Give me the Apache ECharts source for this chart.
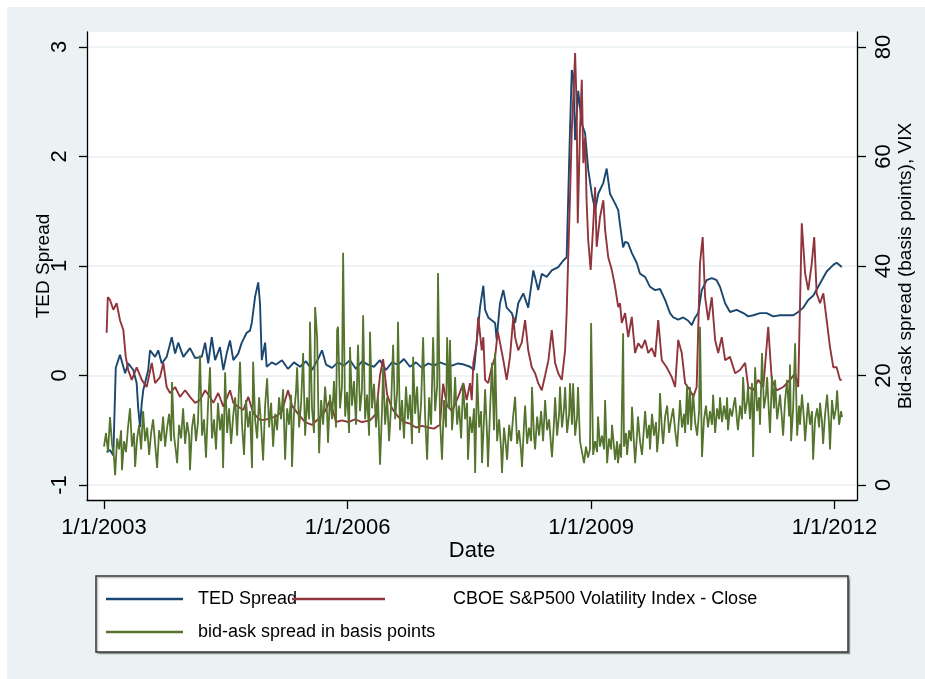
<!DOCTYPE html>
<html>
<head>
<meta charset="utf-8">
<script src="https://cdn.jsdelivr.net/npm/echarts@6/dist/echarts.min.js"></script>
<style>
html,body{margin:0;padding:0;background:#fff;}
#chart{width:925px;height:679px;}
</style>
</head>
<body>
<div id="chart"></div>
<script>
// x values are days since 1 Jan 2003
const xTickDays = [0, 1096, 2192, 3287];
const leftTicks = [-1, 0, 1, 2, 3];
const rightTicks = [0, 20, 40, 60, 80];

const tedSpread = [[12,-0.70],[27,-0.68],[42,-0.73],[50,-0.72],[53,0.07],[72,0.19],[95,0.02],[109,0.11],[132,0.05],[147,-0.07],[154,-0.30],[162,-0.47],[170,-0.25],[177,-0.13],[199,0.05],[207,0.23],[230,0.17],[244,0.23],[260,0.11],[282,0.17],[305,0.35],[320,0.20],[334,0.30],[357,0.17],[387,0.25],[410,0.16],[440,0.17],[455,0.30],[469,0.11],[485,0.35],[500,0.14],[522,0.26],[537,0.05],[552,0.20],[567,0.32],[582,0.14],[604,0.20],[620,0.30],[642,0.39],[657,0.41],[665,0.48],[680,0.72],[694,0.85],[702,0.66],[710,0.14],[725,0.30],[732,0.08],[755,0.12],[774,0.10],[801,0.14],[828,0.06],[855,0.12],[882,0.08],[909,0.13],[936,0.05],[963,0.15],[981,0.23],[999,0.10],[1026,0.07],[1053,0.12],[1080,0.09],[1107,0.14],[1134,0.06],[1161,0.13],[1188,0.10],[1215,0.08],[1242,0.14],[1269,0.05],[1296,0.12],[1323,0.10],[1350,0.15],[1377,0.08],[1404,0.12],[1431,0.07],[1458,0.11],[1485,0.09],[1512,0.12],[1539,0.10],[1566,0.09],[1593,0.11],[1620,0.10],[1647,0.08],[1665,0.05],[1692,0.62],[1707,0.82],[1715,0.60],[1729,0.53],[1760,0.48],[1767,0.33],[1782,0.66],[1797,0.78],[1812,0.62],[1835,0.57],[1850,0.48],[1864,0.66],[1887,0.75],[1909,0.62],[1932,0.96],[1954,0.78],[1970,0.93],[1992,0.90],[2015,0.96],[2044,0.99],[2067,1.05],[2082,1.08],[2089,1.63],[2097,2.24],[2105,2.79],[2112,2.73],[2120,2.15],[2134,2.60],[2150,2.30],[2165,2.21],[2179,1.88],[2195,1.66],[2210,1.51],[2224,1.66],[2247,1.76],[2262,1.89],[2277,1.66],[2300,1.57],[2314,1.51],[2322,1.38],[2336,1.17],[2345,1.22],[2358,1.21],[2375,1.12],[2397,1.03],[2412,0.93],[2435,0.90],[2457,0.81],[2480,0.78],[2502,0.79],[2525,0.69],[2547,0.57],[2562,0.53],[2584,0.51],[2607,0.53],[2629,0.50],[2645,0.46],[2660,0.53],[2674,0.57],[2690,0.78],[2712,0.87],[2735,0.89],[2757,0.87],[2772,0.81],[2795,0.66],[2817,0.58],[2847,0.60],[2877,0.57],[2899,0.54],[2922,0.55],[2952,0.57],[2982,0.57],[3012,0.54],[3042,0.55],[3072,0.55],[3102,0.55],[3124,0.58],[3147,0.62],[3169,0.69],[3192,0.73],[3222,0.84],[3252,0.95],[3282,1.01],[3297,1.03],[3320,0.99]];

const vixClose = [[12,27.8],[17,34.3],[27,33.8],[42,32.0],[57,33.2],[72,30.1],[87,28.3],[98,23.4],[109,21.0],[125,19.2],[147,21.5],[170,19.2],[192,17.9],[215,22.3],[230,18.6],[252,19.7],[267,22.3],[282,17.9],[297,16.8],[320,17.9],[342,16.1],[365,17.3],[387,16.1],[410,15.0],[432,15.5],[455,17.3],[477,16.1],[492,15.0],[514,16.8],[537,14.3],[567,17.3],[582,15.0],[604,14.3],[627,13.7],[649,16.1],[672,13.1],[702,11.9],[725,11.9],[747,12.2],[774,12.5],[801,13.5],[828,17.3],[846,14.5],[873,13.0],[905,11.5],[936,11.0],[963,12.0],[995,13.5],[1017,15.5],[1044,11.5],[1071,11.8],[1098,11.5],[1130,12.0],[1161,11.5],[1197,11.8],[1224,13.0],[1242,20.0],[1256,23.0],[1274,16.5],[1296,14.0],[1323,12.5],[1350,11.5],[1377,11.2],[1404,10.5],[1431,10.8],[1458,10.5],[1485,10.3],[1512,11.0],[1526,18.5],[1544,14.5],[1566,13.5],[1594,16.1],[1617,18.6],[1632,15.5],[1647,18.6],[1655,15.5],[1662,22.3],[1677,25.9],[1684,30.7],[1700,24.6],[1707,27.0],[1715,19.2],[1729,18.6],[1745,21.5],[1760,23.4],[1772,28.0],[1782,26.0],[1797,22.8],[1812,19.2],[1827,23.4],[1842,30.7],[1850,27.0],[1864,24.6],[1880,26.0],[1895,30.1],[1909,24.6],[1925,21.5],[1940,20.4],[1954,18.6],[1970,17.3],[1985,20.0],[2000,22.8],[2015,28.3],[2030,22.3],[2044,20.4],[2060,19.2],[2075,24.6],[2082,31.4],[2089,41.6],[2097,52.6],[2105,64.8],[2112,70.9],[2120,78.9],[2127,69.0],[2132,47.8],[2142,64.8],[2150,74.0],[2157,58.8],[2165,63.5],[2172,51.5],[2179,44.7],[2190,39.3],[2202,47.8],[2210,54.4],[2217,43.5],[2232,48.9],[2247,52.0],[2255,46.6],[2269,41.6],[2285,39.3],[2300,36.2],[2314,32.5],[2322,33.2],[2330,29.6],[2345,31.4],[2359,27.0],[2375,30.7],[2390,24.1],[2404,25.9],[2420,25.0],[2435,26.5],[2449,24.1],[2465,25.0],[2480,23.4],[2494,30.1],[2510,22.8],[2532,21.5],[2555,19.7],[2570,17.9],[2584,26.5],[2600,24.1],[2615,18.6],[2637,17.3],[2652,16.1],[2667,17.9],[2682,40.5],[2694,45.3],[2705,34.3],[2719,30.1],[2735,34.3],[2750,26.5],[2764,24.1],[2780,27.0],[2795,22.8],[2817,23.4],[2840,20.4],[2862,21.0],[2885,22.3],[2899,17.9],[2922,17.3],[2944,19.2],[2967,17.9],[2989,28.9],[3005,19.2],[3027,17.3],[3057,17.9],[3087,19.2],[3110,20.4],[3124,17.9],[3140,47.8],[3155,38.7],[3169,35.6],[3185,40.5],[3196,45.3],[3207,35.0],[3222,33.2],[3237,35.0],[3252,30.1],[3267,25.2],[3282,21.5],[3297,21.5],[3312,19.2],[3320,19.2]];

const bidAskSpread = [[0,7.0],[9,9.5],[18,6.0],[27,12.4],[36,7.5],[45,5.0],[50,1.8],[59,8.5],[68,6.5],[77,10.0],[81,2.7],[90,8.0],[99,6.0],[108,10.5],[117,14.0],[126,7.0],[135,9.5],[140,3.3],[149,8.5],[158,11.0],[167,6.5],[176,13.5],[185,8.0],[194,10.5],[203,5.5],[212,9.5],[221,12.0],[230,7.5],[239,3.1],[248,10.0],[257,8.0],[266,12.5],[275,7.0],[284,10.5],[293,13.0],[302,8.0],[306,18.8],[315,9.0],[324,6.0],[329,4.0],[338,11.0],[347,8.5],[356,14.0],[365,7.5],[374,11.5],[383,9.0],[387,2.7],[396,10.5],[405,13.0],[414,8.0],[423,11.5],[432,23.7],[441,9.0],[450,12.0],[459,5.0],[468,14.5],[477,21.5],[486,8.5],[495,12.0],[504,6.5],[513,15.0],[522,10.0],[531,13.0],[536,3.1],[545,20.6],[554,9.5],[563,14.0],[572,7.5],[581,12.5],[590,16.0],[599,9.0],[612,22.5],[621,11.0],[630,5.5],[639,15.5],[648,10.5],[657,13.5],[666,3.1],[671,22.5],[680,12.0],[689,8.5],[698,16.0],[707,11.0],[716,4.5],[725,14.5],[734,19.5],[743,10.5],[752,15.0],[761,7.0],[770,13.0],[779,10.0],[788,16.0],[797,12.0],[806,17.5],[815,4.6],[824,14.0],[833,11.0],[842,16.5],[846,3.3],[855,13.0],[864,17.0],[869,21.5],[878,10.5],[887,15.0],[896,24.1],[905,9.0],[914,16.0],[923,12.0],[927,29.8],[936,14.0],[945,9.5],[950,32.5],[959,27.0],[968,5.8],[977,15.5],[986,11.0],[995,18.0],[1004,13.0],[1008,7.7],[1017,16.5],[1026,12.0],[1035,19.0],[1044,10.5],[1049,28.3],[1053,28.9],[1062,14.0],[1071,18.0],[1076,42.4],[1085,12.5],[1094,17.0],[1103,9.5],[1107,25.2],[1116,14.5],[1125,19.0],[1134,11.0],[1143,25.6],[1152,13.5],[1161,17.5],[1166,31.0],[1175,12.0],[1184,16.5],[1193,9.0],[1197,28.0],[1206,14.0],[1215,18.5],[1224,10.5],[1233,16.0],[1242,3.7],[1251,13.5],[1256,21.5],[1265,11.0],[1274,16.0],[1283,8.0],[1292,14.5],[1301,25.6],[1310,12.0],[1319,17.0],[1323,29.8],[1332,10.0],[1341,15.5],[1350,8.5],[1359,18.0],[1368,12.0],[1377,16.5],[1386,7.5],[1391,23.4],[1400,13.0],[1409,18.0],[1418,9.5],[1427,15.0],[1436,27.0],[1445,12.5],[1454,4.6],[1463,16.0],[1472,11.0],[1481,27.0],[1490,13.5],[1499,18.0],[1503,38.7],[1512,12.0],[1521,4.6],[1530,15.5],[1539,10.5],[1544,27.0],[1553,14.0],[1557,26.5],[1566,10.0],[1575,15.0],[1580,19.7],[1589,11.0],[1598,14.5],[1607,8.5],[1616,18.6],[1625,12.0],[1634,15.0],[1638,4.6],[1647,12.5],[1656,9.5],[1665,14.0],[1670,2.2],[1679,20.4],[1688,10.5],[1697,13.5],[1701,4.0],[1710,12.0],[1715,17.5],[1724,9.0],[1728,3.3],[1737,13.5],[1746,22.3],[1755,10.0],[1760,24.1],[1769,8.0],[1778,12.0],[1787,6.5],[1791,2.2],[1800,10.5],[1809,7.0],[1814,4.6],[1823,11.0],[1832,8.0],[1841,12.5],[1850,16.1],[1859,7.5],[1868,10.0],[1877,6.0],[1881,3.3],[1890,11.0],[1895,14.5],[1904,7.5],[1913,10.5],[1922,8.0],[1926,17.9],[1935,9.0],[1940,6.5],[1949,12.5],[1958,9.0],[1967,13.5],[1976,8.0],[1985,15.5],[1994,10.0],[2003,12.0],[2012,7.0],[2016,5.1],[2025,11.5],[2030,16.0],[2039,9.0],[2048,13.0],[2052,18.0],[2061,10.5],[2070,14.0],[2075,17.9],[2084,9.5],[2093,13.0],[2097,18.6],[2106,11.0],[2111,18.6],[2120,9.0],[2129,12.5],[2133,17.9],[2142,8.0],[2151,6.0],[2160,4.0],[2169,7.0],[2178,5.0],[2187,6.5],[2192,29.6],[2201,5.5],[2210,8.0],[2219,6.0],[2223,12.5],[2232,7.0],[2241,9.0],[2250,6.5],[2255,15.5],[2264,4.0],[2273,8.5],[2282,6.5],[2286,11.0],[2295,7.0],[2300,4.6],[2309,8.0],[2313,4.0],[2322,7.5],[2327,5.0],[2336,27.7],[2340,7.0],[2349,9.5],[2354,5.5],[2363,10.0],[2372,8.0],[2376,14.3],[2385,7.5],[2390,4.0],[2399,9.5],[2403,12.5],[2412,8.0],[2421,5.5],[2430,10.5],[2435,13.5],[2444,8.5],[2453,11.0],[2457,6.5],[2466,13.0],[2475,9.0],[2484,11.5],[2489,6.0],[2498,10.5],[2502,16.8],[2511,10.0],[2516,7.5],[2525,12.5],[2534,14.5],[2543,9.5],[2552,12.0],[2561,14.0],[2570,10.0],[2579,7.0],[2588,12.5],[2592,15.5],[2601,10.5],[2610,13.0],[2615,9.5],[2624,18.3],[2628,11.0],[2637,17.9],[2642,10.0],[2651,16.8],[2660,11.5],[2669,9.0],[2678,13.5],[2682,28.9],[2691,5.1],[2700,12.0],[2709,14.5],[2718,10.5],[2727,13.5],[2736,11.0],[2741,16.5],[2750,9.5],[2759,14.0],[2768,12.0],[2772,16.0],[2781,11.5],[2790,14.5],[2799,12.0],[2804,16.0],[2808,10.0],[2817,14.0],[2826,12.5],[2835,15.0],[2840,16.0],[2849,11.5],[2853,10.0],[2862,14.5],[2871,12.0],[2876,19.7],[2885,13.0],[2894,15.5],[2898,18.0],[2907,12.0],[2916,18.6],[2921,5.1],[2930,21.5],[2939,13.5],[2948,16.0],[2952,11.0],[2961,24.1],[2970,14.0],[2979,16.5],[2984,19.7],[2993,12.5],[2997,9.5],[3006,20.0],[3015,14.0],[3020,19.2],[3029,12.0],[3038,15.0],[3042,16.5],[3051,12.0],[3056,9.0],[3065,15.5],[3074,19.2],[3083,12.5],[3087,22.0],[3092,8.0],[3101,14.0],[3110,25.9],[3119,9.0],[3128,14.5],[3132,11.0],[3141,16.5],[3150,12.0],[3155,8.0],[3164,13.0],[3168,15.0],[3177,11.0],[3186,13.5],[3191,4.6],[3200,12.0],[3209,14.0],[3218,10.5],[3222,15.0],[3231,11.5],[3236,7.5],[3245,13.0],[3254,16.5],[3263,11.0],[3267,6.5],[3276,15.5],[3285,12.0],[3294,14.0],[3299,17.3],[3308,11.0],[3317,13.5],[3321,12.4]];

const FONT = '"Liberation Sans", Arial, sans-serif';
const BLUE = '#1A476F', RED = '#90353B', GREEN = '#55752F';

function dayLabel(v) {
  const d = new Date(Date.UTC(2003, 0, 1) + Math.round(v) * 86400000);
  return (d.getUTCMonth() + 1) + '/' + d.getUTCDate() + '/' + d.getUTCFullYear();
}

const chart = echarts.init(document.getElementById('chart'), null, {renderer: 'canvas'});

const axisLineStyle = {color: '#000', width: 1.3};
const gridLineStyle = {color: '#E8EFF2', width: 1.6};

const option = {
  animation: false,
  backgroundColor: '#fff',
  graphic: [
    {type: 'rect', z: -100, silent: true, shape: {x: 7, y: 7, width: 918, height: 672}, style: {fill: '#EAF2F3'}},
    {type: 'rect', z: -99, silent: true, shape: {x: 87, y: 32, width: 770, height: 468}, style: {fill: '#FFFFFF'}},
    {type: 'rect', z: -50, silent: true, shape: {x: 96, y: 576, width: 752, height: 76},
     style: {fill: '#FFFFFF', stroke: '#333', lineWidth: 1.5, shadowColor: 'rgba(0,0,0,0.25)', shadowOffsetX: 1.5, shadowOffsetY: 1.5, shadowBlur: 1}}
  ],
  grid: {left: 87, right: 68, top: 32, bottom: 179, containLabel: false, outerBoundsMode: 'none'},
  xAxis: {
    type: 'value',
    min: -76.5, max: 3388.5,
    name: 'Date', nameLocation: 'middle', nameGap: 40, nameMoveOverlap: false,
    nameTextStyle: {fontFamily: FONT, fontSize: 22, color: '#000'},
    axisLine: {show: true, onZero: false, lineStyle: axisLineStyle},
    axisTick: {show: true, length: 9, lineStyle: axisLineStyle, customValues: xTickDays},
    axisLabel: {fontFamily: FONT, fontSize: 22, color: '#000', margin: 17, customValues: xTickDays, formatter: dayLabel, hideOverlap: false},
    splitLine: {show: false}
  },
  yAxis: [
    {
      type: 'value', position: 'left',
      min: -1.137, max: 3.137,
      name: 'TED Spread', nameLocation: 'middle', nameGap: 34, nameRotate: 90, nameMoveOverlap: false,
      nameTextStyle: {fontFamily: FONT, fontSize: 19, color: '#000'},
      axisLine: {show: true, onZero: false, lineStyle: axisLineStyle},
      axisTick: {show: true, length: 8, lineStyle: axisLineStyle, customValues: leftTicks},
      axisLabel: {fontFamily: FONT, fontSize: 22, color: '#000', rotate: 90, margin: 16, customValues: leftTicks},
      splitLine: {show: true, lineStyle: gridLineStyle}
    },
    {
      type: 'value', position: 'right',
      min: -2.74, max: 82.74,
      name: 'Bid-ask spread (basis points), VIX', nameLocation: 'middle', nameGap: 39, nameRotate: 90, nameMoveOverlap: false,
      nameTextStyle: {fontFamily: FONT, fontSize: 19, color: '#000'},
      axisLine: {show: true, onZero: false, lineStyle: axisLineStyle},
      axisTick: {show: true, length: 9, lineStyle: axisLineStyle, customValues: rightTicks},
      axisLabel: {fontFamily: FONT, fontSize: 22, color: '#000', rotate: 90, margin: 16, customValues: rightTicks},
      splitLine: {show: false}
    }
  ],
  legend: [
    {left: 106, top: 588, padding: 0, selectedMode: false, icon: 'rect', itemWidth: 77, itemHeight: 2.5,
     data: ['TED Spread'], textStyle: {fontFamily: FONT, fontSize: 18, color: '#000', lineHeight: 22, padding: [0, 0, 0, 10]}},
    {left: 292, top: 588, padding: 0, selectedMode: false, icon: 'rect', itemWidth: 93, itemHeight: 2.5,
     data: ['CBOE S&P500 Volatility Index - Close'], textStyle: {fontFamily: FONT, fontSize: 18, color: '#000', lineHeight: 22, padding: [0, 0, 0, 63]}},
    {left: 106, top: 621, padding: 0, selectedMode: false, icon: 'rect', itemWidth: 77, itemHeight: 2.5,
     data: ['bid-ask spread in basis points'], textStyle: {fontFamily: FONT, fontSize: 18, color: '#000', lineHeight: 22, padding: [0, 0, 0, 10]}}
  ],
  series: [
    {name: 'TED Spread', type: 'line', yAxisIndex: 0, data: tedSpread, showSymbol: false, symbol: 'none',
     lineStyle: {color: BLUE, width: 1.9}, itemStyle: {color: BLUE}, z: 2},
    {name: 'CBOE S&P500 Volatility Index - Close', type: 'line', yAxisIndex: 1, data: vixClose, showSymbol: false, symbol: 'none',
     lineStyle: {color: RED, width: 1.9}, itemStyle: {color: RED}, z: 3},
    {name: 'bid-ask spread in basis points', type: 'line', yAxisIndex: 1, data: bidAskSpread, showSymbol: false, symbol: 'none',
     lineStyle: {color: GREEN, width: 1.8}, itemStyle: {color: GREEN}, z: 4}
  ]
};
chart.setOption(option);
</script>
</body>
</html>
